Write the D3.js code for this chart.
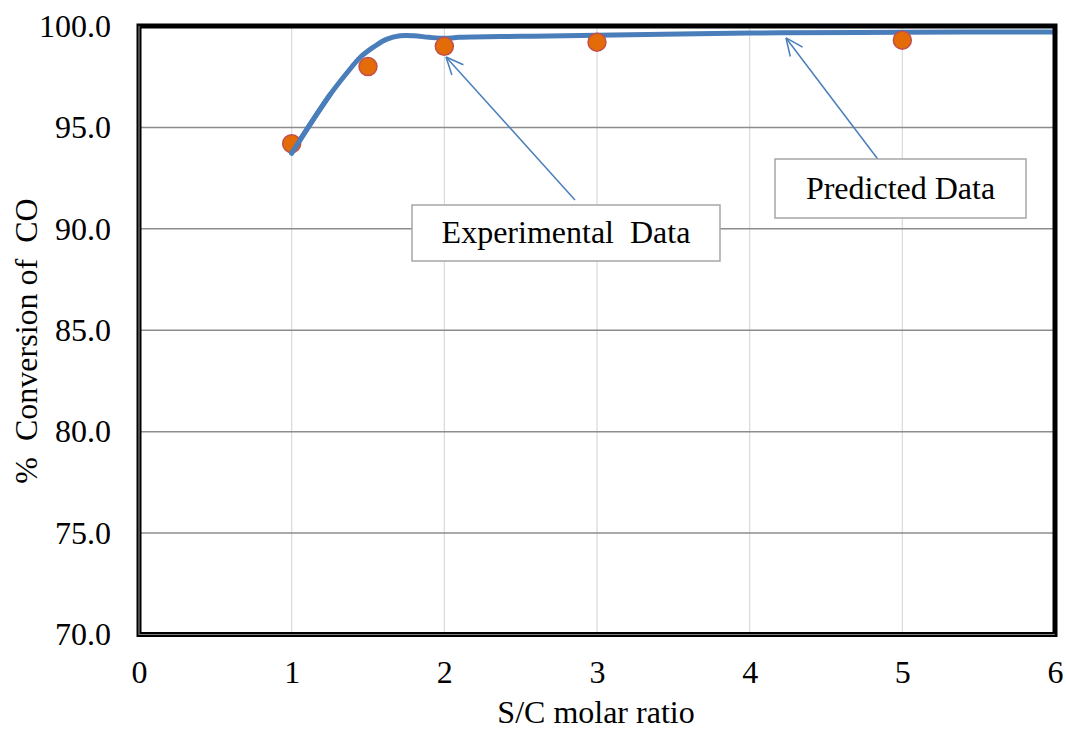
<!DOCTYPE html>
<html>
<head>
<meta charset="utf-8">
<script src="https://cdn.jsdelivr.net/npm/d3@7"></script>
<style>
  html, body { margin: 0; padding: 0; background: #fff; }
  svg { display: block; }
  svg text { font-family: "Liberation Serif", "Times New Roman", serif; }
</style>
</head>
<body>
<svg id="chart" width="1066" height="729"></svg>
<script>
// Experimental measurements (S/C molar ratio vs % CO conversion)
const expRatio = [1, 1.5, 2, 3, 5];
const expConversion = [94.2, 98.0, 99.0, 99.2, 99.3];

// Model prediction curve
const predRatio = [1.0, 1.14, 1.25, 1.36, 1.45, 1.54, 1.62, 1.71, 1.8, 1.9, 2.0, 2.1, 2.5, 3.0, 4.0, 5.0, 6.0];
const predConversion = [93.73, 95.37, 96.6, 97.67, 98.46, 98.98, 99.34, 99.52, 99.52, 99.44, 99.39, 99.44, 99.49, 99.54, 99.65, 99.69, 99.71];

const xTicks = [0, 1, 2, 3, 4, 5, 6];
const yTicks = [70, 75, 80, 85, 90, 95, 100];

// Annotation callouts: text, box (in px), arrow tail (px) and arrow target in data units
const callouts = [
  { label: "Experimental  Data", box: [412, 205, 308, 56], from: [575, 200], to: [2.011, 98.47] },
  { label: "Predicted Data", box: [775, 159, 251, 59], from: [880, 162], to: [4.238, 99.41] }
];

const FS = 32;
const FONT = "'Liberation Serif', 'Times New Roman', serif";
const svg = d3.select("#chart");
const pLeft = 139, pRight = 1055, pTop = 26, pBottom = 634.5;

const x = d3.scaleLinear().domain([0, 6]).range([pLeft, pRight]);
const y = d3.scaleLinear().domain([70, 100]).range([pBottom, pTop]);

// vertical gridlines
svg.append("g")
  .selectAll("line").data(xTicks.slice(1, -1)).join("line")
  .attr("x1", d => x(d)).attr("x2", d => x(d))
  .attr("y1", pTop).attr("y2", pBottom)
  .attr("stroke", "#d9d9d9").attr("stroke-width", 1.2);

// horizontal gridlines
svg.append("g")
  .selectAll("line").data(yTicks.slice(1, -1)).join("line")
  .attr("x1", pLeft).attr("x2", pRight)
  .attr("y1", d => y(d)).attr("y2", d => y(d))
  .attr("stroke", "#8c8c8c").attr("stroke-width", 1.5);

// axes (labels only)
const yAxis = d3.axisLeft(y).tickValues(yTicks).tickFormat(d3.format(".1f")).tickSize(0).tickPadding(28);
const yG = svg.append("g").attr("transform", `translate(${pLeft},0)`).call(yAxis);
yG.select(".domain").remove();
yG.attr("font-size", FS).attr("font-family", FONT);
yG.selectAll("text").attr("fill", "#000").style("font-family", FONT);

const xAxis = d3.axisBottom(x).tickValues(xTicks).tickFormat(d3.format("d")).tickSize(0).tickPadding(26);
const xG = svg.append("g").attr("transform", `translate(0,${pBottom})`).call(xAxis);
xG.select(".domain").remove();
xG.attr("font-size", FS).attr("font-family", FONT);
xG.selectAll("text").attr("fill", "#000").style("font-family", FONT);

// axis titles
svg.append("text")
  .attr("x", (pLeft + pRight) / 2 - 1).attr("y", 723)
  .attr("text-anchor", "middle").attr("font-size", FS)
  .text("S/C molar ratio");

svg.append("text")
  .attr("transform", `translate(37,341) rotate(-90)`)
  .attr("text-anchor", "middle").attr("font-size", FS)
  .style("white-space", "pre")
  .text("%  Conversion of  CO");

// predicted curve
const line = d3.line().x(d => x(d[0])).y(d => y(d[1])).curve(d3.curveCatmullRom.alpha(0.5));
const predPts = predRatio.map((r, i) => [r, predConversion[i]]);
svg.append("path")
  .datum(predPts)
  .attr("d", line)
  .attr("fill", "none").attr("stroke", "#4a7ebb").attr("stroke-width", 5)
  .attr("stroke-linecap", "round").attr("stroke-linejoin", "round");

// experimental points
svg.append("g")
  .selectAll("circle").data(expRatio.map((r, i) => [r, expConversion[i]])).join("circle")
  .attr("cx", d => x(d[0])).attr("cy", d => y(d[1])).attr("r", 9)
  .attr("fill", "#e36c09").attr("stroke", "#c0504d").attr("stroke-width", 1.5);

// re-draw the start of the curve so it sits over the first point
svg.append("path")
  .datum(predPts.slice(0, 3))
  .attr("d", line)
  .attr("fill", "none").attr("stroke", "#4a7ebb").attr("stroke-width", 5)
  .attr("stroke-linecap", "round");

// callouts with open arrowheads
callouts.forEach(c => {
  const [bx, by, bw, bh] = c.box;
  const tx = x(c.to[0]), ty = y(c.to[1]);
  const [fx, fy] = c.from;
  svg.append("line")
    .attr("x1", fx).attr("y1", fy).attr("x2", tx).attr("y2", ty)
    .attr("stroke", "#4a7ebb").attr("stroke-width", 1.5);
  const ang = Math.atan2(fy - ty, fx - tx);
  const len = 19, spread = 0.42;
  [ang - spread, ang + spread].forEach(a => {
    svg.append("line")
      .attr("x1", tx).attr("y1", ty)
      .attr("x2", tx + len * Math.cos(a)).attr("y2", ty + len * Math.sin(a))
      .attr("stroke", "#4a7ebb").attr("stroke-width", 1.5);
  });
  svg.append("rect")
    .attr("x", bx).attr("y", by).attr("width", bw).attr("height", bh)
    .attr("fill", "#fff").attr("stroke", "#a6a6a6").attr("stroke-width", 1.5);
  svg.append("text")
    .attr("x", bx + bw / 2).attr("y", by + bh / 2 + 10)
    .attr("text-anchor", "middle").attr("font-size", FS)
    .style("white-space", "pre")
    .text(c.label);
});

// plot frame: heavy black border, with a thin grey core on left and bottom edges
svg.append("rect")
  .attr("x", pLeft).attr("y", pTop).attr("width", pRight - pLeft).attr("height", pBottom - pTop)
  .attr("fill", "none").attr("stroke", "#000").attr("stroke-width", 5);
svg.append("path")
  .attr("d", `M${pLeft},${pTop} V${pBottom} H${pRight}`)
  .attr("fill", "none").attr("stroke", "#7f7f7f").attr("stroke-width", 1.2);
</script>
</body>
</html>
